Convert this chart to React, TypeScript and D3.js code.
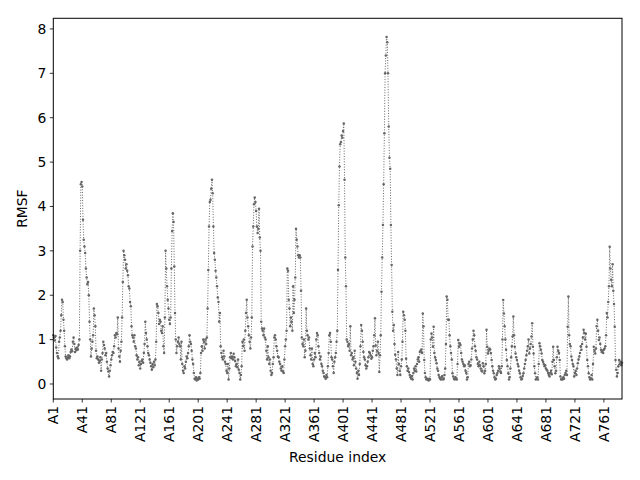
import React from "react";
import * as d3 from "d3";

// RMSF values per residue (index 0 = A1)
const rmsf000 = [
  1.10, 1.05, 0.98, 1.08, 0.82, 0.70, 0.62, 0.58, 0.95, 1.05,
  1.20, 1.55, 1.90, 1.85, 1.45, 1.20, 0.85, 0.62, 0.58, 0.55,
  0.60, 0.65, 0.58, 0.62, 0.72, 0.78, 0.74, 0.95, 1.05, 0.90,
  0.72, 0.80, 0.76, 0.82, 0.78, 0.88, 1.00, 3.00, 4.50, 4.55,
  4.45, 3.70, 3.25, 3.10, 2.95, 2.60, 2.40, 2.25, 2.30, 2.00,
  1.40, 1.00, 0.62, 0.80, 0.95, 1.10, 1.70, 1.55, 1.30, 0.75,
  0.58, 0.62, 0.55, 0.48, 0.52, 0.60, 0.30, 0.55, 0.70, 0.95,
  0.88, 0.80, 0.65, 0.70, 0.50, 0.35, 0.28, 0.17, 0.30, 0.42,
  0.55, 0.65, 0.72, 0.70, 0.85, 1.10, 1.05, 1.15, 1.12, 1.50,
  0.80, 0.62, 0.50, 0.75, 0.95, 1.50, 2.30, 3.00, 2.90, 2.80,
];
const rmsf100 = [
  2.60, 2.70, 2.55, 2.45, 2.20, 2.15, 1.85, 1.75, 1.30, 1.10,
  1.05, 0.95, 1.10, 0.85, 0.80, 0.65, 0.55, 0.60, 0.42, 0.50,
  0.35, 0.45, 0.52, 0.55, 0.48, 0.70, 0.90, 1.40, 1.15, 1.00,
  0.85, 0.70, 0.65, 0.55, 0.48, 0.40, 0.32, 0.45, 0.38, 0.50,
  0.42, 0.55, 0.95, 1.80, 1.75, 1.60, 1.35, 1.45, 1.40, 1.20,
  1.15, 1.30, 0.85, 0.70, 1.50, 3.00, 2.60, 2.20, 1.90, 1.70,
  1.45, 1.35, 1.50, 2.60, 3.45, 3.85, 3.65, 2.65, 1.60, 1.00,
  0.70, 0.85, 0.95, 1.05, 0.90, 0.85, 0.55, 0.95, 0.45, 0.30,
  0.25, 0.40, 0.35, 0.50, 0.62, 0.58, 0.70, 0.85, 1.10, 0.95,
  0.90, 0.75, 0.55, 0.45, 0.25, 0.12, 0.10, 0.15, 0.08, 0.12,
];
const rmsf200 = [
  0.10, 0.15, 0.12, 0.25, 0.70, 0.85, 0.75, 1.00, 0.95, 0.80,
  1.00, 0.90, 1.05, 1.70, 2.57, 3.55, 4.10, 4.15, 4.40, 4.60,
  4.30, 3.55, 2.95, 2.80, 2.55, 2.40, 2.20, 1.95, 1.85, 1.40,
  1.60, 0.85, 0.70, 0.60, 0.55, 0.75, 0.62, 0.50, 0.45, 0.30,
  0.25, 0.45, 0.10, 0.35, 0.60, 0.70, 0.58, 0.62, 0.55, 0.68,
  0.60, 0.52, 0.40, 0.45, 0.38, 0.55, 0.32, 0.25, 0.10, 0.20,
  0.40, 0.95, 0.85, 1.00, 0.75, 1.20, 1.60, 1.90, 1.50, 1.30,
  1.10, 0.95, 0.80, 1.05, 1.50, 3.10, 3.55, 4.05, 4.20, 4.10,
  3.90, 3.55, 3.40, 3.50, 3.95, 3.30, 3.00, 1.40, 1.25, 1.20,
  1.10, 1.25, 1.05, 1.00, 0.75, 0.55, 0.85, 0.60, 0.45, 0.55,
];
const rmsf300 = [
  0.30, 0.20, 0.25, 0.45, 0.60, 1.05, 1.10, 1.00, 0.85, 0.75,
  0.62, 0.60, 0.50, 0.45, 0.35, 0.30, 0.40, 0.28, 0.25, 0.55,
  0.85, 1.00, 1.20, 2.60, 2.55, 1.90, 1.70, 1.30, 1.50, 1.40,
  1.20, 2.20, 1.60, 1.90, 2.40, 3.50, 3.25, 3.10, 2.90, 2.85,
  2.90, 2.85, 2.10, 1.05, 0.90, 0.85, 1.00, 0.60, 0.75, 1.70,
  1.20, 1.10, 1.00, 1.05, 0.80, 0.65, 0.55, 0.80, 0.45, 0.40,
  0.55, 0.70, 0.60, 1.00, 1.15, 1.10, 0.85, 0.70, 0.55, 0.62,
  0.45, 0.40, 0.30, 0.25, 0.17, 0.15, 0.12, 0.20, 0.15, 0.40,
  0.70, 1.10, 1.15, 0.95, 0.60, 0.55, 0.40, 0.25, 0.50, 0.60,
  0.70, 0.95, 1.20, 2.57, 4.03, 4.90, 5.40, 5.45, 5.60, 5.55,
];
const rmsf400 = [
  5.70, 5.87, 4.60, 2.85, 2.20, 1.00, 0.95, 0.85, 0.90, 0.75,
  1.30, 0.65, 0.70, 0.55, 0.60, 0.42, 0.75, 0.50, 0.35, 0.25,
  0.12, 0.30, 0.20, 0.45, 0.85, 1.33, 1.20, 0.95, 0.72, 0.60,
  0.55, 0.42, 0.35, 0.40, 0.50, 0.60, 0.72, 0.70, 0.65, 0.57,
  0.60, 0.75, 0.85, 1.10, 1.48, 0.87, 0.65, 0.75, 0.95, 0.70,
  0.27, 0.65, 1.10, 2.08, 2.85, 3.58, 4.50, 5.65, 7.00, 7.40,
  7.82, 7.70, 7.00, 5.80, 5.10, 4.85, 3.58, 2.68, 1.63, 1.20,
  1.33, 0.90, 0.66, 0.55, 0.35, 0.20, 0.72, 0.45, 0.30, 0.20,
  0.40, 0.55, 0.95, 1.63, 1.55, 1.45, 1.20, 0.57, 0.40, 0.30,
  0.35, 0.27, 0.20, 0.15, 0.12, 0.18, 0.10, 0.25, 0.35, 0.30,
];
const rmsf500 = [
  0.40, 0.28, 0.45, 0.55, 0.60, 0.50, 0.72, 0.75, 0.78, 0.70,
  1.59, 1.30, 0.54, 0.25, 0.15, 0.10, 0.12, 0.10, 0.08, 0.12,
  0.10, 1.00, 1.14, 1.05, 0.84, 1.29, 0.70, 0.60, 0.54, 0.47,
  0.35, 0.30, 0.20, 0.15, 0.12, 0.10, 0.15, 0.18, 0.10, 0.12,
  0.20, 0.35, 0.90, 1.97, 1.90, 1.45, 1.45, 1.10, 0.85, 0.70,
  0.55, 0.24, 0.17, 0.12, 0.10, 0.15, 0.12, 0.10, 0.45, 0.99,
  0.84, 0.92, 0.88, 0.70, 0.55, 0.50, 0.45, 0.40, 0.42, 0.30,
  0.25, 0.10, 0.15, 0.45, 0.50, 0.40, 0.42, 0.55, 0.80, 1.00,
  1.20, 1.10, 0.85, 0.75, 0.60, 0.55, 0.45, 0.40, 0.50, 0.42,
  0.35, 0.30, 0.28, 0.47, 0.40, 0.24, 0.30, 0.45, 1.22, 0.84,
];
const rmsf600 = [
  0.69, 0.75, 0.80, 0.78, 0.70, 0.54, 0.40, 0.30, 0.24, 0.15,
  0.10, 0.12, 0.20, 0.25, 0.30, 0.40, 0.35, 0.28, 0.25, 0.40,
  1.00, 1.89, 1.59, 1.30, 1.00, 0.77, 0.54, 0.40, 0.24, 0.10,
  0.15, 0.35, 0.60, 0.85, 1.07, 1.52, 1.10, 0.84, 0.69, 0.60,
  0.54, 0.45, 0.40, 0.30, 0.24, 0.15, 0.10, 0.12, 0.18, 0.24,
  0.35, 0.45, 0.54, 0.65, 0.75, 0.85, 1.00, 0.69, 0.80, 0.90,
  1.07, 1.37, 0.84, 0.69, 0.40, 0.24, 0.10, 0.12, 0.15, 0.10,
  0.45, 0.92, 0.85, 0.77, 0.69, 0.54, 0.50, 0.45, 0.40, 0.42,
  0.35, 0.32, 0.30, 0.25, 0.20, 0.17, 0.25, 0.30, 0.22, 0.50,
  0.84, 0.54, 0.40, 0.24, 0.30, 0.60, 0.84, 0.75, 0.70, 0.54,
];
const rmsf700 = [
  0.17, 0.10, 0.12, 0.10, 0.15, 0.12, 0.20, 0.25, 0.30, 0.20,
  1.29, 1.97, 1.10, 0.90, 0.85, 0.62, 0.54, 0.45, 0.40, 0.17,
  0.25, 0.30, 0.20, 0.35, 0.47, 0.55, 0.62, 0.70, 0.85, 0.77,
  0.90, 1.05, 1.22, 1.15, 1.00, 1.14, 0.84, 0.54, 0.40, 0.24,
  0.15, 0.10, 0.12, 0.20, 0.10, 0.45, 0.84, 0.75, 0.69, 0.80,
  1.30, 1.45, 1.20, 0.99, 1.05, 0.90, 0.77, 0.72, 0.75, 0.70,
  0.77, 0.80, 0.85, 1.10, 1.60, 1.50, 1.85, 2.20, 3.09, 2.60,
  2.35, 2.20, 2.70, 2.10, 1.80, 1.29, 0.54, 0.32, 0.17, 0.25,
  0.40, 0.54, 0.45, 0.50, 0.42, 0.48,
];

const rmsf = [
  ...rmsf000, ...rmsf100, ...rmsf200, ...rmsf300,
  ...rmsf400, ...rmsf500, ...rmsf600, ...rmsf700,
];

const chain = "A";
const xTickStep = 40;
const yTicks = [0, 1, 2, 3, 4, 5, 6, 7, 8];
const xLabel = "Residue index";
const yLabel = "RMSF";

export default function App() {
  const W = 640;
  const H = 480;
  const left = 53.3;
  const right = 622;
  const top = 18.3;
  const bottom = 399;

  const n = rmsf.length;
  const x = d3.scaleLinear().domain([0, n - 1]).range([left, right]);
  const y = d3.scaleLinear().domain([-0.338, 8.24]).range([bottom, top]);

  const xTicks = d3.range(0, n, xTickStep);
  const line = d3
    .line<number>()
    .x((_, i) => x(i))
    .y((d) => y(d));

  const color = "#666666";
  const font = "'DejaVu Sans', sans-serif";
  const fs = 13.9;

  return (
    <div style={{ position: "fixed", left: 0, top: 0, width: W, height: H, background: "#fff" }}>
      <svg width={W} height={H} style={{ display: "block" }}>
        <rect x={0} y={0} width={W} height={H} fill="#fff" />
        <path
          d={line(rmsf) || ""}
          fill="none"
          stroke={color}
          strokeWidth={1}
          strokeDasharray="1,1.65"
        />
        {rmsf.map((v, i) => (
          <circle key={i} cx={x(i)} cy={y(v)} r={1.25} fill={color} />
        ))}
        <rect
          x={left}
          y={top}
          width={right - left}
          height={bottom - top}
          fill="none"
          stroke="#000"
          strokeWidth={1}
        />
        {yTicks.map((t) => (
          <g key={t} transform={`translate(${left},${y(t)})`}>
            <line x1={-3.5} x2={0} stroke="#000" strokeWidth={0.8} />
            <text
              x={-7}
              dy="0.35em"
              textAnchor="end"
              fontFamily={font}
              fontSize={fs}
              fill="#000"
            >
              {t}
            </text>
          </g>
        ))}
        {xTicks.map((t) => (
          <g key={t} transform={`translate(${x(t)},${bottom})`}>
            <line y1={0} y2={3.5} stroke="#000" strokeWidth={0.8} />
            <text
              transform="translate(0,7) rotate(-90)"
              textAnchor="end"
              dy="0.35em"
              fontFamily={font}
              fontSize={fs}
              fill="#000"
            >
              {`${chain}${t + 1}`}
            </text>
          </g>
        ))}
        <text
          x={(left + right) / 2}
          y={462}
          textAnchor="middle"
          fontFamily={font}
          fontSize={fs}
          fill="#000"
        >
          {xLabel}
        </text>
        <text
          transform={`translate(27,${(top + bottom) / 2}) rotate(-90)`}
          textAnchor="middle"
          fontFamily={font}
          fontSize={fs}
          fill="#000"
        >
          {yLabel}
        </text>
      </svg>
    </div>
  );
}
